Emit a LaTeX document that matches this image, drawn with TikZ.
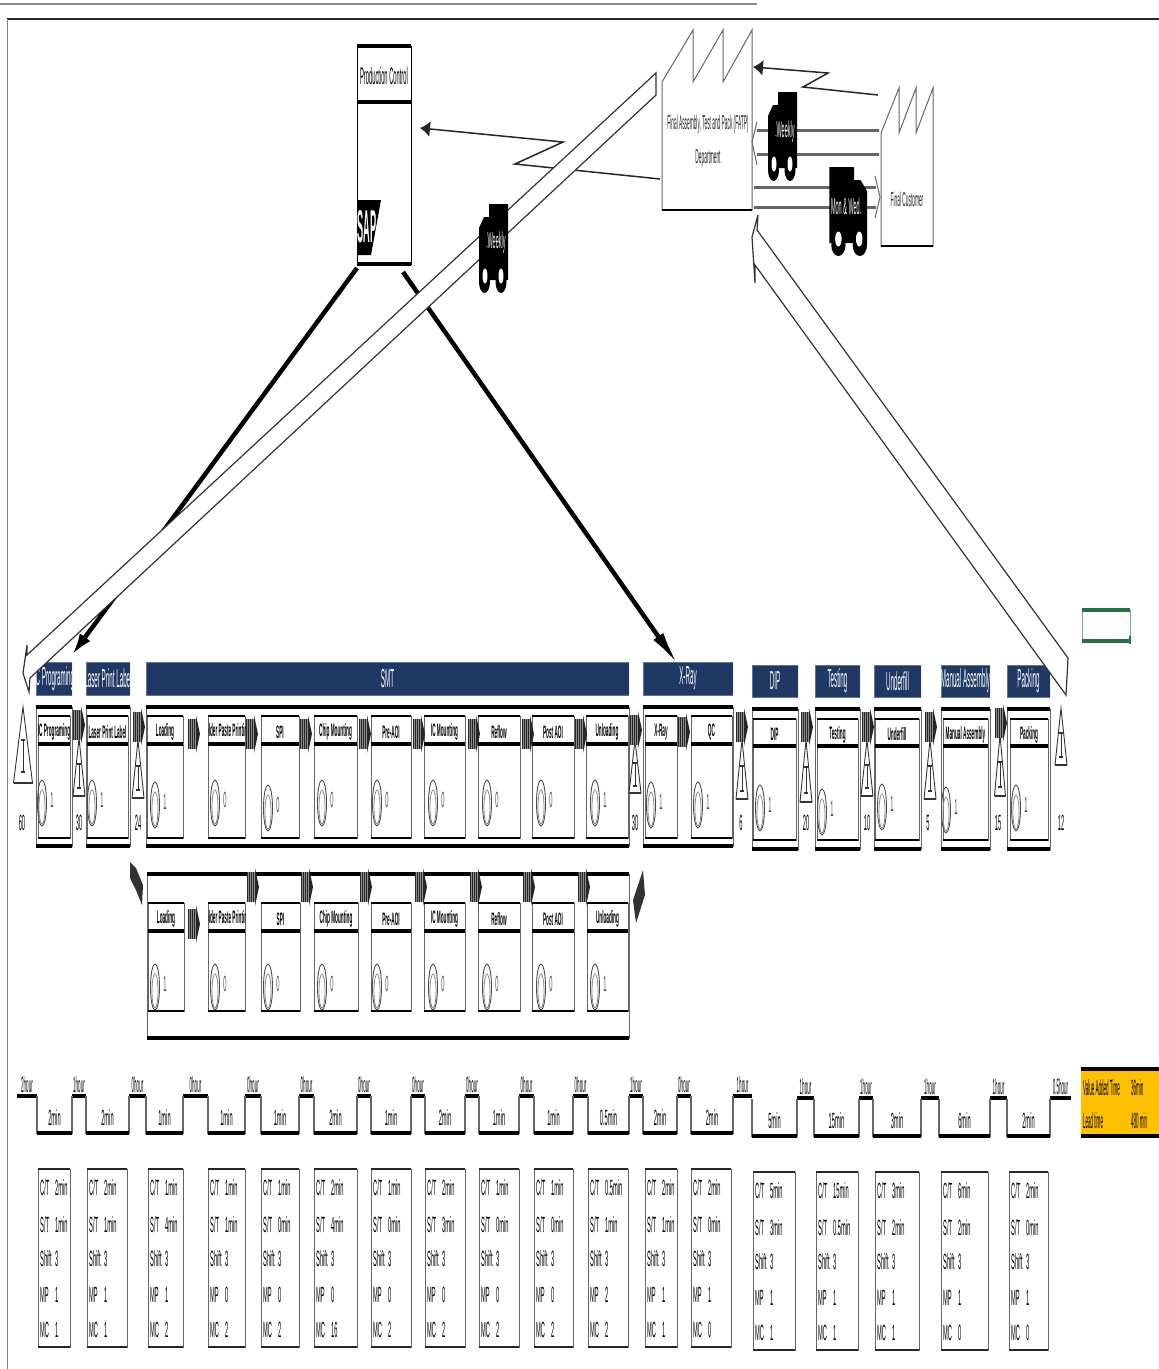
\documentclass[tikz,border=0pt]{standalone}
\usepackage{graphicx}
\usepackage{xcolor}
\usepackage{fontspec}
\setmainfont{Liberation Sans}
\usepackage{tikz}
\usetikzlibrary{calc, arrows.meta}

\definecolor{navyhead}{HTML}{1F3864}
\definecolor{cellgreen}{HTML}{217346}
\definecolor{sumorange}{HTML}{FFC000}

\newcommand{\sq}[1]{\scalebox{0.26}[1]{#1}}
\newcommand{\sqn}[1]{\scalebox{0.24}[1]{#1}}
\newcommand{\sqs}[1]{\scalebox{0.205}[1]{#1}}

\tikzset{
    hairline/.style={draw=black!60, line width=1pt},
    bar/.style={draw=black, line width=3.8pt},
    thinbar/.style={draw=black, line width=1.5pt},
    hollow/.style={draw=black!80, line width=1.2pt, fill=white},
    ship/.style={draw=black!60, line width=3pt},
    feed/.style={draw=black, line width=4.5pt, -{Latex[length=36pt,width=12pt]}},
    feedshort/.style={draw=black, line width=4.5pt, -{Latex[length=22pt,width=13pt]}},
    zigzag/.style={draw=black!85, line width=1.5pt, -{Latex[length=10pt,width=16pt]}},
    headtxt/.style={inner sep=0pt, text=black, font=\bfseries\fontsize{18}{18}\selectfont},
    navytxt/.style={inner sep=0pt, text=white, font=\fontsize{26}{26}\selectfont},
    datatxt/.style={inner sep=0pt, text=black, font=\fontsize{22}{22}\selectfont},
    truckmark/.style={inner sep=0pt, text=white, font=\fontsize{23}{23}\selectfont},
    navybox/.style={fill=navyhead, draw=navyhead!70}
}

% navy process title
\newcommand{\navyhead}[6]{%
    \begin{scope}
        \clip (#2,#4) rectangle (#3,#5);
        \fill[navybox] (#2,#4) rectangle (#3,#5);
        \node[navytxt] (#1) at ({(#2+#3)/2},{(#4+#5)/2}) {\sqn{#6}};
    \end{scope}
}
% outer process frame
\newcommand{\outerbox}[4]{%
    \draw[hairline] (#1,#3) rectangle (#2,#4);
    \draw[bar] (#1,#3) -- (#2,#3);
    \draw[bar] (#1,#4) -- (#2,#4);
}
% inner process box with clipped title
\newcommand{\procbox}[7]{%
    \draw[hairline] (#2,#4) rectangle (#3,#6);
    \draw[thinbar] (#2,#4) -- (#3,#4);
    \draw[bar] (#2,#5) -- (#3,#5);
    \draw[thinbar] (#2,#6) -- (#3,#6);
    \begin{scope}
        \clip (#2,#4) rectangle (#3,#5);
        \node[headtxt] (#1) at ({(#2+#3)/2},{(#4+#5)/2+2}) {\sq{#7}};
    \end{scope}
}
% operator symbol
\newcommand{\opsym}[4]{%
    \draw[black!70, line width=0.9pt] (#2,#3) ellipse (4.5 and 23);
    \draw[black!45, line width=0.8pt] (#2,#3+4) ellipse (3 and 17);
    \node[datatxt, text=black!70] (#1) at (#2+10,#3-3) {\sq{#4}};
}
% inventory triangle
\newcommand{\invtri}[7]{%
    \draw[draw=black!80, fill=white, line width=0.9pt] (#2,#3) -- (#2+#5,#4) -- (#2-#5,#4) -- cycle;
    \draw[black!80, line width=1.2pt] (#2-#5,#4) -- (#2+#5,#4);
    \draw[black!80, line width=0.8pt] (#2,{#3+0.44*(#4-#3)}) -- (#2,{#3+0.86*(#4-#3)});
    \fill[black!80] (#2-2,{#3+0.44*(#4-#3)-1}) rectangle (#2+2,{#3+0.44*(#4-#3)+1});
    \fill[black!80] (#2-2,{#3+0.86*(#4-#3)-1}) rectangle (#2+2,{#3+0.86*(#4-#3)+1});
    \node[datatxt] (#1) at (#6,823) {\sq{#7}};
}
% striped push arrow
\newcommand{\pusharr}[2]{%
    \fill[black!85] (#1,#2) rectangle (#1+8,#2+30);
    \fill[black!85] (#1+8,#2-4) -- (#1+12,#2+15) -- (#1+8,#2+34) -- cycle;
    \foreach \k in {1.5,3.5,5.5,7.5}
        \draw[black!45, line width=0.5pt] (#1+\k,#2) -- (#1+\k,#2+30);
}
% delivery truck
\newcommand{\truck}[4]{%
    \begin{scope}[shift={(#1,#2)}, xscale=#3, yscale=#4]
        \fill[black] (10,0) -- (29,0) -- (29,76) -- (0,76) -- (0,24) -- (5,13) -- (10,13) -- cycle;
        \fill[black] (5.5,78) ellipse (5.5 and 11);
        \fill[black] (22,78) ellipse (5.5 and 11);
        \fill[white] (6,72) ellipse (2.5 and 7.5);
        \fill[white] (22,72) ellipse (2.5 and 7.5);
    \end{scope}
}
% timing data box
\newcommand{\databox}[8]{%
    \draw[hairline] (#2,#4) rectangle (#3,#4+178);
    \draw[draw=black!85, line width=2.2pt] (#2,#4) -- (#3,#4);
    \draw[draw=black!85, line width=2.2pt] (#2,#4+178) -- (#3,#4+178);
    \node[datatxt, anchor=west] (#1ct) at (#2+2,#4+19) {\sq{C/T}};
    \node[datatxt, anchor=west] (#1ctv) at (#2+17,#4+19) {\sq{#5}};
    \node[datatxt, anchor=west] (#1st) at (#2+2,#4+56) {\sq{S/T}};
    \node[datatxt, anchor=west] (#1stv) at (#2+17,#4+56) {\sq{#6}};
    \node[datatxt, anchor=west] (#1sh) at (#2+2,#4+90) {\sq{Shift}};
    \node[datatxt, anchor=west] (#1shv) at (#2+17,#4+90) {\sq{3}};
    \node[datatxt, anchor=west] (#1mp) at (#2+2,#4+126) {\sq{MP}};
    \node[datatxt, anchor=west] (#1mpv) at (#2+17,#4+126) {\sq{#7}};
    \node[datatxt, anchor=west] (#1mc) at (#2+2,#4+161) {\sq{MC}};
    \node[datatxt, anchor=west] (#1mcv) at (#2+17,#4+161) {\sq{#8}};
}

\begin{document}
\begin{tikzpicture}[x=1pt, y=-1pt]
    \useasboundingbox (0,0) rectangle (1159,1369);
    % Page lines
    \draw[black!45, line width=2pt] (0,4) -- (757,4);
    \draw[black!85, line width=1.5pt] (7,19) -- (1159,19);
    \draw[black!50, line width=1pt] (7,19) -- (7,1369);

    % Production control
    \draw[hairline, draw=black] (357,46) rectangle (411,264);
    \draw[bar] (357,46) -- (411,46);
    \draw[bar] (357,102) -- (411,102);
    \draw[bar] (357,264) -- (411,264);
    \node[inner sep=0pt, font=\fontsize{24}{24}\selectfont] (prodctrl) at (384,76) {\sqn{Production Control}};
    \fill[black] (357,200) -- (381,200) -- (371,255) -- (357,255) -- cycle;
    \node[inner sep=0pt, text=white, font=\bfseries\fontsize{46}{46}\selectfont] (sap) at (367,227) {\scalebox{0.2}[1]{SAP}};

    % Feed arrows under the shipping arrow
    \coordinate (pcleft) at (357,268);
    \coordinate (pcright) at (403,272);
    \coordinate (icend) at (72,655);
    \coordinate (xrayend) at (679,666);
    \draw[feedshort] (pcleft) -- (icend);
    \draw[feed] (pcright) -- (xrayend);

    % FATP factory
    \draw[hairline, fill=white] (662,210) -- (662,82) -- (693,30) -- (693,82) -- (723,30) -- (723,82) -- (752,30) -- (752,210) -- cycle;
    \draw[thinbar] (662,210) -- (752,210);
    \node[inner sep=0pt, text=black!85, font=\fontsize{20}{20}\selectfont] (fatpa) at (708,124) {\sqn{Final Assembly, Test and Pack (FATP)}};
    \node[inner sep=0pt, text=black!85, font=\fontsize{20}{20}\selectfont] (fatpb) at (708,159) {\sqn{Department}};

    % Customer factory
    \draw[hairline, fill=white] (881,246) -- (881,133) -- (899,88) -- (899,133) -- (916,88) -- (916,133) -- (933,88) -- (933,246) -- cycle;
    \draw[thinbar] (881,246) -- (933,246);
    \node[inner sep=0pt, text=black!85, font=\fontsize{20}{20}\selectfont] (customer) at (907,199) {\sqn{Final Customer}};

    % Information flow
    \coordinate (zfatp) at (660,179);
    \coordinate (zpc) at (420,128);
    \coordinate (zcust) at (878,95);
    \coordinate (zfatptop) at (753,67);
    \draw[zigzag] (zfatp) -- (515,164) -- (563,142) -- (zpc);
    \draw[zigzag] (zcust) -- (803,87) -- (828,73) -- (zfatptop);

    % Shipments between customer and FATP
    \draw[ship] (879,130) -- (757,130);
    \draw[ship] (879,154) -- (757,154);
    \draw[hairline] (757,122) -- (752,142) -- (757,165);
    \draw[ship] (754,187) -- (876,187);
    \draw[ship] (754,207) -- (876,207);
    \draw[hairline] (875,176) -- (880,197) -- (875,218);

    % Process titles
    \navyhead{tic}{36}{72}{662}{695}{IC Programing}
    \navyhead{tlaser}{86}{130}{662}{695}{Laser Print Label}
    \navyhead{tsmt}{146}{629}{662}{695}{SMT}
    \navyhead{txray}{643}{733}{662}{695}{X-Ray}
    \navyhead{tdip}{752}{798}{665}{697}{DIP}
    \navyhead{ttest}{815}{860}{665}{697}{Testing}
    \navyhead{tunder}{874}{921}{665}{697}{Underfill}
    \navyhead{tmanual}{941}{990}{665}{697}{Manual Assembly}
    \navyhead{tpack}{1007}{1050}{665}{697}{Packing}

    % Shipping arrows
    \draw[hollow] (656,73) -- (27,655) -- (27,645) -- (23,673) -- (29,692) -- (30,678) -- (656,95) -- cycle;
    \draw[hollow] (1068,658) -- (757,230) -- (758,215) -- (752,237) -- (755,283) -- (755,265) -- (1066,695) -- cycle;

    % Top row
    \outerbox{36}{72}{707}{846}
    \outerbox{86}{130}{707}{846}
    \outerbox{146}{629}{707}{846}
    \outerbox{643}{733}{707}{846}
    \outerbox{752}{798}{709}{849}
    \outerbox{815}{860}{709}{849}
    \outerbox{874}{921}{709}{849}
    \outerbox{941}{990}{709}{849}
    \outerbox{1007}{1050}{709}{849}
    \foreach \nm/\l/\r/\ttl in {pic/38/70/IC Programing, plaser/87/128/Laser Print Label, pload/147/183/Loading, psolder/208/245/Solder Paste Printing, pspi/261/299/SPI, pchip/314/357/Chip Mounting, ppre/371/411/Pre-AOI, pmount/424/465/IC Mounting, preflow/478/520/Reflow, ppost/532/574/Post AOI, punload/586/628/Unloading, pxray/645/677/X-Ray, pqc/691/732/QC}
        \procbox{\nm}{\l}{\r}{716}{744}{838}{\ttl};
    \foreach \nm/\l/\r/\ttl in {pdip/753/796/DIP, ptest/817/858/Testing, punder/875/919/Underfill, pmanual/943/988/Manual Assembly, ppack/1010/1048/Packing}
        \procbox{\nm}{\l}{\r}{719}{746}{840}{\ttl};

    % Second row
    \outerbox{147}{629}{874}{1038}
    \foreach \nm/\l/\r/\ttl in {qload/148/184/Loading, qsolder/208/245/Solder Paste Printing, qspi/261/300/SPI, qchip/314/358/Chip Mounting, qpre/371/411/Pre-AOI, qmount/424/465/IC Mounting, qreflow/478/520/Reflow, qpost/532/574/Post AOI, qunload/587/628/Unloading}
        \procbox{\nm}{\l}{\r}{903}{931}{1011}{\ttl};

    % Operators
    \foreach \nm/\x/\y/\n in {oic/42/803/1, olaser/92/803/1, oload/155/805/1, osolder/215/803/0, ospi/268/808/0, ochip/322/803/0, opre/377/803/0, omount/433/803/0, oreflow/487/803/0, opost/541/803/0, ounload/595/803/1, oxray/651/805/1, oqc/698/805/1, odip/760/808/1, otest/822/812/1, ounder/882/807/1, omanual/946/810/1, opack/1016/808/1}
        \opsym{\nm}{\x}{\y}{\n};
    \foreach \nm/\x/\n in {rload/155/1, rsolder/215/0, rspi/268/0, rchip/322/0, rpre/377/0, rmount/433/0, rreflow/487/0, rpost/541/0, runload/595/1}
        \opsym{\nm}{\x}{987}{\n};

    % Inventory
    \invtri{i1}{23}{707}{783}{9.5}{22}{60}
    \invtri{i2}{79}{738}{796}{6}{79}{30}
    \invtri{i3}{138}{740}{798}{6}{138}{24}
    \invtri{i4}{635}{740}{793}{6}{635}{30}
    \invtri{i5}{742}{740}{799}{6}{741}{6}
    \invtri{i6}{806}{740}{802}{6}{806}{20}
    \invtri{i7}{867}{740}{796}{6}{867}{10}
    \invtri{i8}{930}{740}{799}{6}{928}{5}
    \invtri{i9}{1000}{735}{796}{5.5}{998}{15}
    \invtri{i10}{1061}{708}{765}{6}{1061}{12}

    % Push arrows
    \foreach \x/\y in {73/710, 133/712, 188/719, 246/719, 300/719, 359/719, 413/719, 468/719, 522/719, 575/719, 630/715, 678/717, 736/712, 801/712, 862/712, 925/712, 995/708, 188/909, 247/872, 301/872, 360/872, 415/872, 470/872, 523/872, 578/872}
        \pusharr{\x}{\y};
    \fill[black!80] (130,862) -- (136,868) -- (143,885) -- (142,905) -- (136,890) -- (130,878) -- cycle;
    \fill[black!80] (643,870) -- (645,895) -- (636,923) -- (633,900) -- cycle;

    % Trucks
    \truck{768}{92}{1}{1}
    \truck{867}{167}{-1.3}{1}
    \truck{479}{204}{1}{1}
    \node[truckmark] (weeklya) at (785,132) {\sqn{{\tiny ◄}Weekly}};
    \node[truckmark] (monwed) at (846,206) {\sqn{Mon \& Wed{\tiny ►}}};
    \node[truckmark] (weeklyb) at (496,243) {\sqn{{\tiny ◄}Weekly}};

    % Excel cell cursor
    \draw[cellgreen!60, line width=0.8pt] (1082,610) rectangle (1130,641);
    \draw[cellgreen, line width=3.5pt] (1082,610) -- (1130,610);
    \draw[cellgreen, line width=3.5pt] (1082,641) -- (1130,641);
    \draw[cellgreen, line width=1.5pt] (1130,636) -- (1130,644);

    % Timeline
    \foreach \a/\b/\y/\txt [count=\i] in {17/37/1096/2hour, 72/86/1096/1hour, 129/146/1096/0hour, 183/208/1096/0hour, 245/261/1096/0hour, 299/314/1096/0hour, 357/371/1096/0hour, 411/425/1096/0hour, 465/479/1096/0hour, 519/534/1096/0hour, 573/588/1096/0hour, 629/643/1096/1hour, 677/691/1096/0hour, 733/752/1096/1hour, 797/814/1098/1hour, 859/873/1098/1hour, 921/939/1098/1hour, 990/1007/1098/1hour, 1050/1071/1098/0.5hour}{
        \draw[bar] (\a,\y) -- (\b,\y);
        \node[datatxt] (top\i) at ({(\a+\b)/2},\y-11) {\sqs{\txt}};
    }
    \foreach \a/\b/\y/\txt [count=\i] in {37/72/1133/2min, 86/129/1133/2min, 146/183/1133/1min, 208/245/1133/1min, 261/299/1133/1min, 314/357/1133/2min, 371/411/1133/1min, 425/465/1133/2min, 479/519/1133/1min, 534/573/1133/1min, 588/629/1133/0.5min, 643/677/1133/2min, 691/733/1133/2min, 752/797/1136/5min, 814/859/1136/15min, 873/921/1136/3min, 939/990/1136/6min, 1007/1050/1136/2min}{
        \draw[hairline, line width=1.2pt] (\a,\y-37) -- (\a,\y) -- (\b,\y) -- (\b,\y-37);
        \draw[bar] (\a,\y) -- (\b,\y);
        \node[datatxt] (low\i) at ({(\a+\b)/2},\y-15) {\sq{\txt}};
    }

    % Summary
    \fill[sumorange] (1081,1068) rectangle (1159,1137);
    \draw[bar] (1081,1069) -- (1159,1069);
    \draw[bar] (1081,1136) -- (1159,1136);
    \node[datatxt, anchor=west] (vat) at (1083,1088) {\sqs{Value Added Time}};
    \node[datatxt, anchor=west] (vatv) at (1131,1088) {\sqs{36min}};
    \node[datatxt, anchor=west] (lt) at (1083,1121) {\sqs{Lead time}};
    \node[datatxt, anchor=west] (ltv) at (1131,1121) {\sqs{480 min}};

    % Data boxes
    \foreach \nm/\l/\r/\t/\ct/\st/\mp/\mc in {dic/38/70/1169/2min/1min/1/1, dlaser/87/127/1169/2min/1min/1/1, dload/148/183/1169/1min/4min/1/2, dsolder/208/245/1169/1min/1min/0/2, dspi/261/299/1169/1min/0min/0/2, dchip/314/357/1169/2min/4min/0/16, dpre/371/411/1169/1min/0min/0/2, dmount/425/465/1169/2min/3min/0/2, dreflow/479/519/1169/1min/0min/0/2, dpost/534/573/1169/1min/0min/0/2, dunload/588/628/1169/0.5min/1min/2/2, dxray/645/677/1169/2min/1min/1/1, dqc/691/731/1169/2min/0min/1/0, ddip/753/795/1172/5min/3min/1/1, dtest/816/858/1172/15min/0.5min/1/1, dunder/875/919/1172/3min/2min/1/1, dmanual/941/988/1172/6min/2min/1/0, dpack/1009/1048/1172/2min/0min/1/0}
        \databox{\nm}{\l}{\r}{\t}{\ct}{\st}{\mp}{\mc};
\end{tikzpicture}
\end{document}
